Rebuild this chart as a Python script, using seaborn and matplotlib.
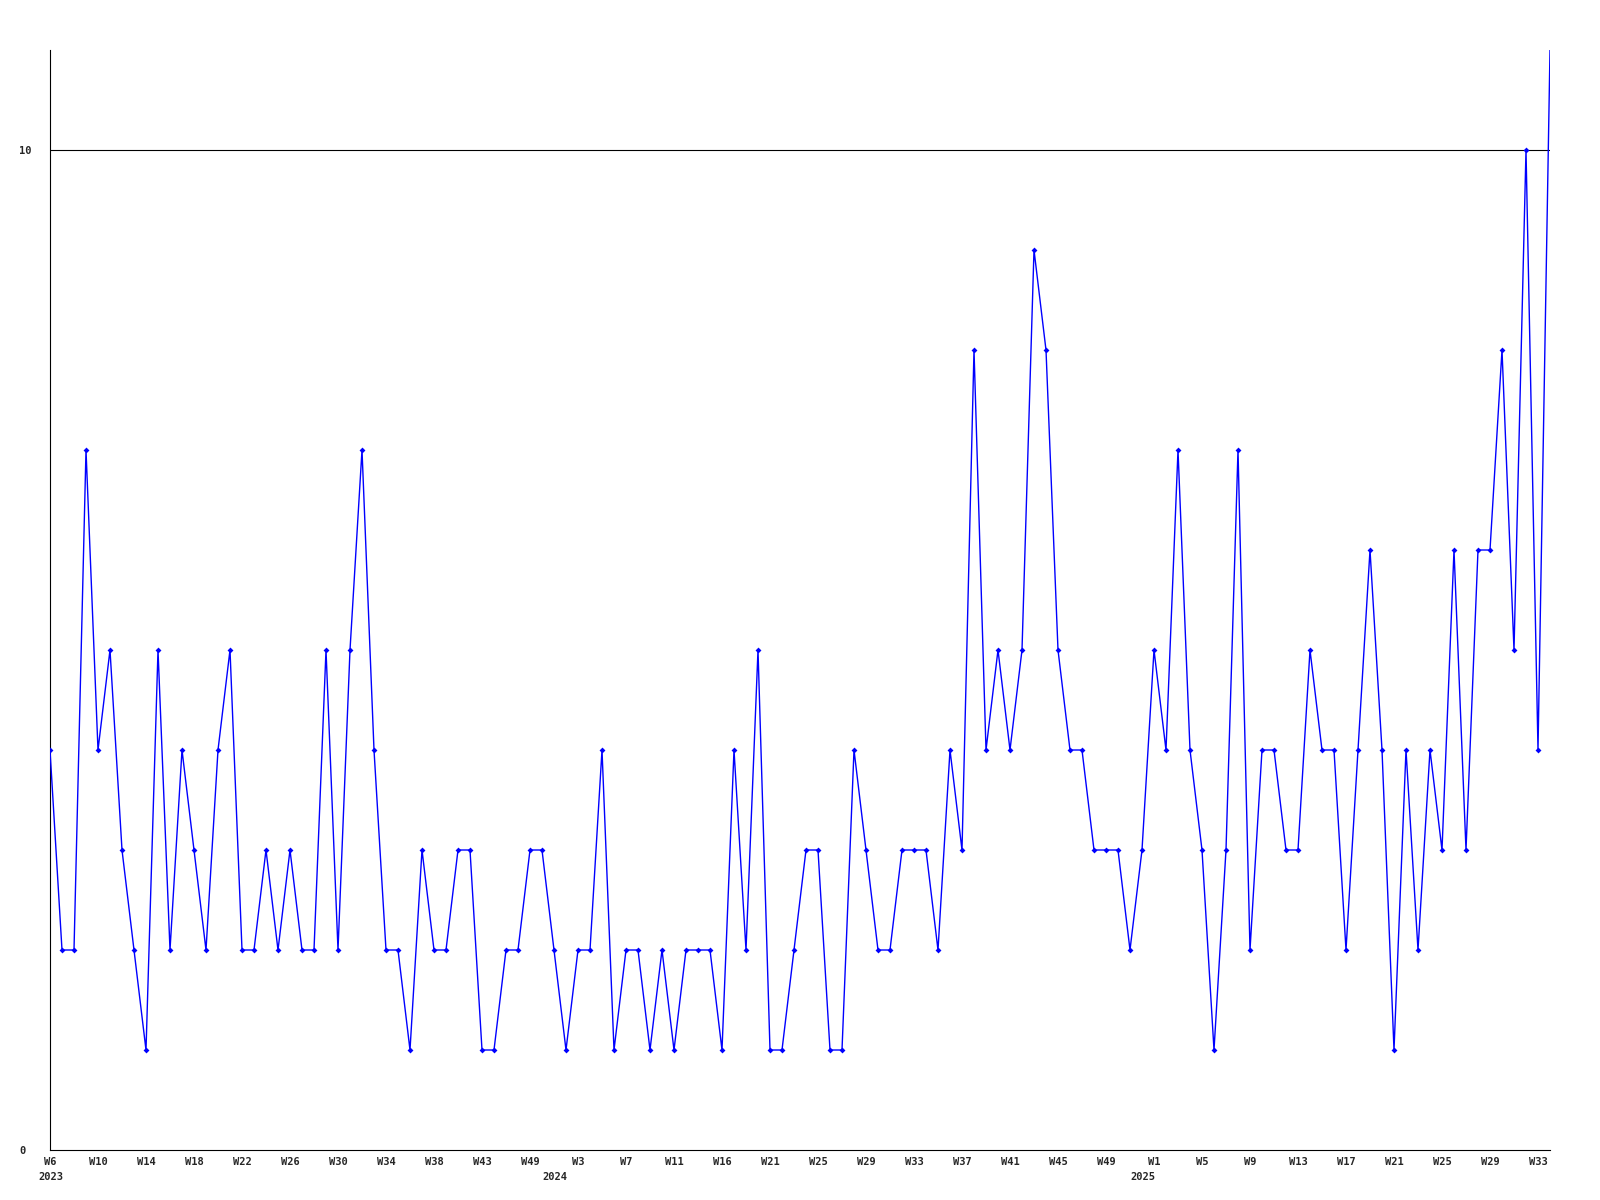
import matplotlib

matplotlib.use("Agg")

import matplotlib.pyplot as plt
import numpy as np
import pandas as pd
import seaborn as sns

# weekly counts, one point per recorded week (W6 2023 .. W34 2025)
COUNTS = [
    4, 2, 2, 7, 4, 5, 3, 2, 1, 5, 2, 4, 3, 2, 4, 5, 2, 2, 3, 2,
    3, 2, 2, 5, 2, 5, 7, 4, 2, 2, 1, 3, 2, 2, 3, 3, 1, 1, 2, 2,
    3, 3, 2, 1, 2, 2, 4, 1, 2, 2, 1, 2, 1, 2, 2, 2, 1, 4, 2, 5,
    1, 1, 2, 3, 3, 1, 1, 4, 3, 2, 2, 3, 3, 3, 2, 4, 3, 8, 4, 5,
    4, 5, 9, 8, 5, 4, 4, 3, 3, 3, 2, 3, 5, 4, 7, 4, 3, 1, 3, 7,
    2, 4, 4, 3, 3, 5, 4, 4, 2, 4, 6, 4, 1, 4, 2, 4, 3, 6, 3, 6,
    6, 8, 5, 10, 4, 11,
]

# a week label on every 4th point
WEEK_TICKS = [
    "W6", "W10", "W14", "W18", "W22", "W26", "W30", "W34", "W38", "W43",
    "W49", "W3", "W7", "W11", "W16", "W21", "W25", "W29", "W33", "W37",
    "W41", "W45", "W49", "W1", "W5", "W9", "W13", "W17", "W21", "W25",
    "W29", "W33",
]
YEAR_LABELS = ["2023", "2024", "2025"]
YEAR_STARTS = [0, 42, 91]  # point index where each year begins

sns.set_theme(style="white")
plt.rcParams["font.family"] = ["DejaVu Sans Mono", "DejaVu Sans"]

df = pd.DataFrame({"week": np.arange(len(COUNTS)), "count": COUNTS})

fig = plt.figure(figsize=(16, 12), dpi=100)
ax = fig.add_axes([50 / 1600, 50 / 1200, 1500 / 1600, 1100 / 1200])

sns.lineplot(
    data=df,
    x="week",
    y="count",
    ax=ax,
    color="#0000ff",
    linewidth=1.0,
    marker="D",
    markersize=3,
    markeredgewidth=0,
    markevery=slice(0, len(COUNTS) - 1),  # last point sits on the frame edge
    zorder=3,
)
ax.axhline(10, color="black", linewidth=0.8, zorder=2)

ax.set_xlim(0, len(COUNTS) - 1)
ax.set_ylim(0, 11)
ax.set_xlabel("")
ax.set_ylabel("")

ax.set_xticks(np.arange(0, len(COUNTS), 4)[: len(WEEK_TICKS)])
ax.set_xticklabels(WEEK_TICKS, fontsize=7.5, fontweight="bold")
ax.set_yticks([0, 10])
ax.set_yticklabels(["0", "10"], fontsize=7.5, fontweight="bold")
ax.tick_params(axis="x", length=0, pad=5)
ax.tick_params(axis="y", length=0, pad=22)
for lbl in ax.get_yticklabels():
    lbl.set_horizontalalignment("left")

for year, pos in zip(YEAR_LABELS, YEAR_STARTS):
    ax.annotate(
        year,
        xy=(pos, 0),
        xycoords=("data", "axes fraction"),
        xytext=(1, -22),
        textcoords="offset pixels",
        ha="center",
        va="top",
        fontsize=7.5,
        fontweight="bold",
        annotation_clip=False,
    )

for side in ("top", "right"):
    ax.spines[side].set_visible(False)
for side in ("left", "bottom"):
    ax.spines[side].set_color("black")
    ax.spines[side].set_linewidth(0.8)
ax.grid(False)

fig.savefig("out.png", dpi=100, facecolor="white")
plt.close(fig)
